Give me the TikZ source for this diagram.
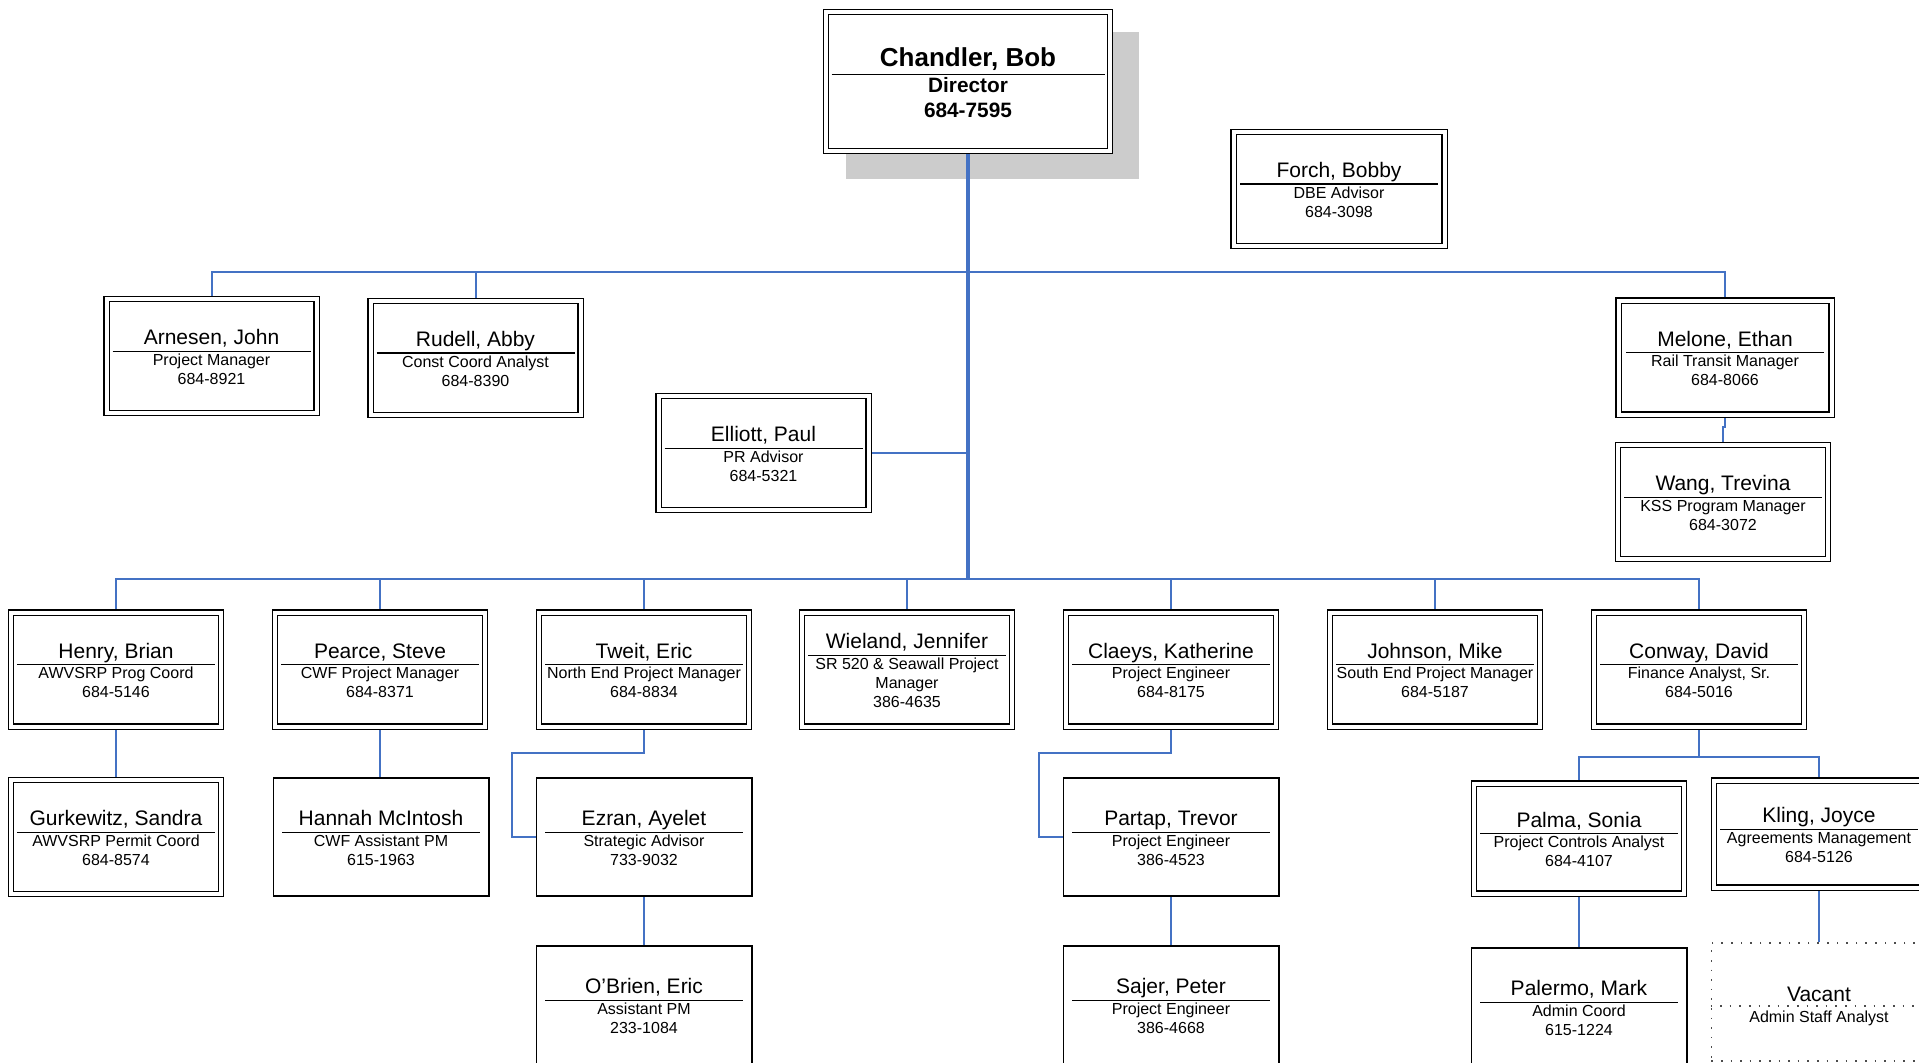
\documentclass[tikz,border=0pt]{standalone}
\usepackage{fontspec}
\setmainfont{Liberation Sans}
\usepackage{tikz}
\usetikzlibrary{backgrounds}
\definecolor{linkblue}{RGB}{68,114,196}
\setlength{\arrayrulewidth}{0.7pt}
\newcommand{\cardname}{\fontsize{10.5}{12}\selectfont}
\newcommand{\card}[3][99pt]{\begin{tabular}{@{}c@{}}\makebox[#1]{\cardname #2\rule{0pt}{1.08em}}\\\hline #3\end{tabular}}

\begin{document}
\begin{tikzpicture}[x=0.5pt,y=-0.5pt,
  seat/.style={rectangle, fill=white, inner sep=0pt, font=\fontsize{8}{9.5}\selectfont},
  dseat/.style={seat, draw, double, double distance=2pt, line width=0.7pt, minimum width=105pt, minimum height=57pt},
  sseat/.style={seat, draw, line width=0.8pt, minimum width=107.7pt, minimum height=59.2pt},
  vseat/.style={seat, draw=black!70, dash pattern=on 0.8pt off 4pt, line width=0.8pt, minimum width=107.7pt, minimum height=59.2pt},
  link/.style={draw=linkblue, line width=1pt},
  trunk/.style={link, line width=1.75pt}]
\useasboundingbox (0,0) rectangle (1919,1062);
\clip (0,0) rectangle (1919,1062);

% Director
\node[dseat, minimum width=142pt, minimum height=69.5pt, font=\bfseries\fontsize{10.4}{12.5}\selectfont] (chandler) at (968,81.5)
  {\card[136.5pt]{\fontsize{13}{15}\selectfont Chandler, Bob}{Director\\684-7595}};
\node[dseat, minimum width=105.5pt] (forch) at (1339,189) {\card{Forch, Bobby}{DBE Advisor\\684-3098}};

% Staff
\node[dseat] (arnesen) at (211.5,356) {\card{Arnesen, John}{Project Manager\\684-8921}};
\node[dseat] (rudell) at (475.5,358) {\card{Rudell, Abby}{Const Coord Analyst\\684-8390}};
\node[dseat] (elliott) at (763.5,453) {\card{Elliott, Paul}{PR Advisor\\684-5321}};
\node[dseat, minimum width=106.5pt] (melone) at (1725,357.5) {\card{Melone, Ethan}{Rail Transit Manager\\684-8066}};
\node[dseat] (wang) at (1723,502) {\card{Wang, Trevina}{KSS Program Manager\\684-3072}};

% Managers
\node[dseat] (henry) at (116,669.5) {\card{Henry, Brian}{AWVSRP Prog Coord\\684-5146}};
\node[dseat] (pearce) at (380,669.5) {\card{Pearce, Steve}{CWF Project Manager\\684-8371}};
\node[dseat] (tweit) at (644,669.5) {\card{Tweit, Eric}{North End Project Manager\\684-8834}};
\node[dseat] (wieland) at (907,669.5) {\card{Wieland, Jennifer}{SR 520 \& Seawall Project\\Manager\\386-4635}};
\node[dseat] (claeys) at (1171,669.5) {\card{Claeys, Katherine}{Project Engineer\\684-8175}};
\node[dseat] (johnson) at (1435,669.5) {\card{Johnson, Mike}{South End Project Manager\\684-5187}};
\node[dseat] (conway) at (1699,669.5) {\card{Conway, David}{Finance Analyst, Sr.\\684-5016}};

% Third row
\node[dseat] (gurkewitz) at (116,837) {\card{Gurkewitz, Sandra}{AWVSRP Permit Coord\\684-8574}};
\node[sseat] (mcintosh) at (381,837) {\card{Hannah McIntosh}{CWF Assistant PM\\615-1963}};
\node[sseat] (ezran) at (644,837) {\card{Ezran, Ayelet}{Strategic Advisor\\733-9032}};
\node[sseat] (partap) at (1171,837) {\card{Partap, Trevor}{Project Engineer\\386-4523}};
\node[dseat, minimum height=55pt] (palma) at (1579,838.5) {\card{Palma, Sonia}{Project Controls Analyst\\684-4107}};
\node[dseat, minimum height=53.5pt] (kling) at (1819,834) {\card{Kling, Joyce}{Agreements Management\\684-5126}};

% Fourth row
\node[sseat] (obrien) at (644,1005) {\card{O'Brien, Eric}{Assistant PM\\233-1084}};
\node[sseat] (sajer) at (1171,1005) {\card{Sajer, Peter}{Project Engineer\\386-4668}};
\node[sseat] (palermo) at (1579,1007) {\card{Palermo, Mark}{Admin Coord\\615-1224}};
\node[vseat] (vacant) at (1819,1002)
  {\begin{tabular}{@{}c@{}}{\cardname Vacant\rule{0pt}{1.25em}}\\[1pt] Admin Staff Analyst\end{tabular}};
\draw[draw=black!70, dash pattern=on 0.8pt off 4pt, line width=0.8pt] ([yshift=-2pt]vacant.west) -- ([yshift=-2pt]vacant.east);

\begin{scope}[on background layer]
\fill[white] (0,0) rectangle (1919,1062);
% shadow of the director box
\fill[black!20] ([shift={(21,21)}]chandler.north west) rectangle ([shift={(28,27)}]chandler.south east);

% Reporting lines
\coordinate (bus1) at (968,272);
\coordinate (bus2) at (968,579);
\draw[trunk] (chandler.south) -- (bus2);
\draw[link] (bus1) -| (arnesen.north);
\draw[link] (bus1) -| (rudell.north);
\draw[link] (bus1) -| (melone.north);
\draw[link] (elliott.east) -- (elliott.east -| bus1);
\draw[link] (melone.south) -- ++(0,12) -| (wang.north);

\draw[link] (bus2) -| (henry.north);
\draw[link] (bus2) -| (pearce.north);
\draw[link] (bus2) -| (tweit.north);
\draw[link] (bus2) -| (wieland.north);
\draw[link] (bus2) -| (claeys.north);
\draw[link] (bus2) -| (johnson.north);
\draw[link] (bus2) -| (conway.north);

\draw[link] (henry.south) -- (gurkewitz.north);
\draw[link] (pearce.south) -- (pearce.south |- mcintosh.north);
\draw[link] (tweit.south) -- ++(0,26) -| ([xshift=-12pt]ezran.west) -- (ezran.west);
\draw[link] (ezran.south) -- (obrien.north);
\draw[link] (claeys.south) -- ++(0,26) -| ([xshift=-12pt]partap.west) -- (partap.west);
\draw[link] (partap.south) -- (sajer.north);
\draw[link] (conway.south) -- ++(0,30) coordinate (cwbus) -| (palma.north);
\draw[link] (cwbus) -| (kling.north);
\draw[link] (palma.south) -- (palermo.north);
\draw[link] (kling.south) -- (vacant.north);
\end{scope}
\end{tikzpicture}
\end{document}
